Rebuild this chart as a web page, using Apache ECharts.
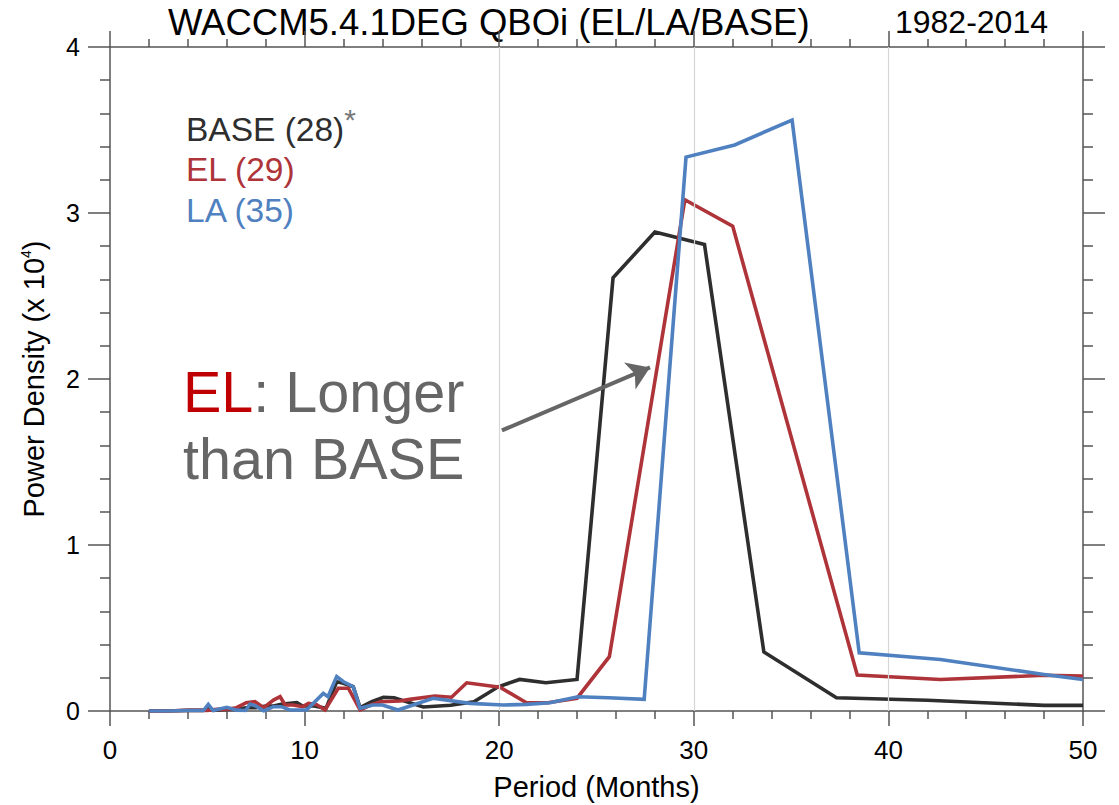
<!DOCTYPE html>
<html><head><meta charset="utf-8">
<script src="https://cdn.jsdelivr.net/npm/echarts@6/dist/echarts.min.js"></script>
<style>html,body{margin:0;padding:0;background:#fff}#c{width:1119px;height:805px}</style>
</head><body><div id="c"></div>
<script>
// ---- data (period in months, power density x 10^4) ----
const basePeriod = [2, 3, 4, 4.8, 5.05, 5.3, 6, 6.5, 7, 7.5, 8, 8.4, 8.8, 9.25, 9.6, 9.9, 10.5, 11.1, 11.65, 12.0, 12.5, 12.85, 13.45, 14.05, 14.6, 16.1, 17.5, 18.7, 19.95, 21.05, 22.4, 24.0, 25.85, 28.0, 30.55, 33.6, 37.33, 42.0, 48.0, 50];
const baseValue  = [0, 0, 0.004, 0.004, 0.02, 0.004, 0.01, 0.01, 0.02, 0.02, 0.03, 0.03, 0.04, 0.046, 0.05, 0.03, 0.03, 0.016, 0.176, 0.167, 0.146, 0.02, 0.056, 0.083, 0.08, 0.024, 0.035, 0.055, 0.146, 0.19, 0.17, 0.19, 2.61, 2.885, 2.81, 0.356, 0.08, 0.065, 0.034, 0.034];

const elPeriod = [2, 3, 4, 5, 5.5, 6, 6.5, 7.0, 7.45, 7.9, 8.4, 8.74, 9.0, 9.4, 9.9, 10.2, 10.6, 11.05, 11.73, 12.25, 12.85, 13.4, 13.9, 14.9, 15.4, 16.7, 17.55, 18.33, 20.04, 21.4, 22.5, 24.0, 25.66, 29.54, 32.0, 38.4, 42.67, 48, 50];
const elValue  = [0, 0, 0.004, 0.004, 0.01, 0.01, 0.02, 0.05, 0.056, 0.02, 0.066, 0.086, 0.036, 0.036, 0.026, 0.046, 0.04, 0.006, 0.137, 0.137, 0.006, 0.036, 0.056, 0.06, 0.07, 0.09, 0.083, 0.17, 0.143, 0.05, 0.05, 0.077, 0.327, 3.08, 2.92, 0.217, 0.19, 0.215, 0.21];

const laPeriod = [2, 3, 4, 4.8, 5.05, 5.3, 6.0, 6.5, 6.97, 7.2, 7.5, 7.9, 8.4, 8.8, 9.25, 10.1, 10.96, 11.2, 11.65, 12.0, 12.5, 12.85, 13.5, 14.0, 14.8, 16.6, 18.5, 20.2, 21.4, 22.6, 24.05, 25.6, 27.45, 29.6, 32.1, 35.05, 38.5, 42.67, 48, 50];
const laValue  = [0, 0, 0.003, 0.003, 0.04, 0.003, 0.022, 0.005, 0.003, 0.042, 0.03, 0.0, 0.026, 0.026, 0.006, 0.006, 0.106, 0.086, 0.207, 0.176, 0.146, 0.016, 0.036, 0.036, 0.006, 0.077, 0.046, 0.036, 0.04, 0.05, 0.086, 0.08, 0.07, 3.337, 3.41, 3.56, 0.35, 0.31, 0.22, 0.19];

const gridPeriods = [20, 30, 40];
const arrowFrom = [20.14, 1.69];
const arrowTo = [27.75, 2.07];

const titleText = 'WACCM5.4.1DEG QBOi (EL/LA/BASE)';
const yearText = '1982-2014';
const legendBase = 'BASE (28)';
const legendEL = 'EL (29)';
const legendLA = 'LA (35)';
const noteLine1 = 'EL';
const noteLine1Rest = ': Longer';
const noteLine2 = 'than BASE';
const xName = 'Period (Months)';

const FONT = '"Liberation Sans", Arial, Helvetica, sans-serif';
const C_BASE = '#2e2e2e', C_EL = '#ae343a', C_LA = '#4f80c0';
const AX = '#555';

const zip = (a, b) => a.map((x, i) => [x, b[i]]);
const chart = echarts.init(document.getElementById('c'), null, {renderer: 'svg'});

function xAx(pos, show) {
  return {
    type: 'value', min: 0, max: 50, interval: 10, position: pos,
    axisLine: {onZero: false, lineStyle: {color: AX, width: 1.5}},
    axisTick: {inside: false, length: pos === 'top' ? 16 : 15, lineStyle: {color: AX, width: 1.5}},
    minorTick: {show: true, splitNumber: 5, length: 8, lineStyle: {color: AX, width: 1.5}},
    splitLine: {show: false}, minorSplitLine: {show: false},
    axisLabel: {show: show, fontSize: 26, color: '#000', margin: 26, fontFamily: FONT},
    name: show ? xName : '', nameLocation: 'middle', nameGap: 61,
    nameTextStyle: {fontSize: 29, color: '#000', fontFamily: FONT}
  };
}
function yAx(pos, show) {
  return {
    type: 'value', min: 0, max: 4, interval: 1, position: pos,
    axisLine: {onZero: false, lineStyle: {color: AX, width: 1.5}},
    axisTick: {inside: false, length: 22, lineStyle: {color: AX, width: 1.5}},
    minorTick: {show: true, splitNumber: 5, length: 10, lineStyle: {color: AX, width: 1.5}},
    splitLine: {show: false}, minorSplitLine: {show: false},
    axisLabel: {show: show, fontSize: 25, color: '#000', margin: 30, fontFamily: FONT},
    name: show ? 'Power Density (x 10{sup|4})' : '', nameLocation: 'middle', nameGap: 62, nameRotate: 90,
    nameTextStyle: {fontSize: 29, color: '#000', fontFamily: FONT,
      rich: {sup: {fontSize: 14, color: '#000', fontFamily: FONT, verticalAlign: 'top', padding: [0, 0, 15, 0]}}}
  };
}

const lineSeries = (name, p, v, color, z) => ({
  name, type: 'line', data: zip(p, v), showSymbol: false, symbol: 'none', clip: true, z,
  lineStyle: {color, width: 3.6, join: 'miter'}, silent: true
});

const option = {
  animation: false,
  backgroundColor: '#fff',
  grid: {left: 110, right: 36, top: 47, bottom: 94, containLabel: false, outerBoundsMode: 'none'},
  xAxis: [xAx('bottom', true), xAx('top', false)],
  yAxis: [yAx('left', true), yAx('right', false)],
  series: [
    {type: 'line', data: [], z: 1, silent: true,
     markLine: {silent: true, symbol: 'none', label: {show: false},
       lineStyle: {color: '#d6d6d6', width: 1.2, type: 'solid'},
       data: gridPeriods.map(p => ({xAxis: p}))}},
    lineSeries('BASE', basePeriod, baseValue, C_BASE, 3),
    lineSeries('EL', elPeriod, elValue, C_EL, 4),
    lineSeries('LA', laPeriod, laValue, C_LA, 5),
    {type: 'line', data: [], z: 6, silent: true,
     markLine: {silent: true, symbol: ['none', 'arrow'], symbolSize: 22, label: {show: false},
       lineStyle: {color: '#666', width: 4, type: 'solid'},
       itemStyle: {color: '#666'},
       data: [[{coord: arrowFrom}, {coord: arrowTo}]]}}
  ],
  graphic: [
    {type: 'text', x: 168, y: 22, style: {text: titleText, fontSize: 36.5, fontFamily: FONT, fill: '#000', textVerticalAlign: 'middle'}},
    {type: 'text', x: 1048, y: 22, style: {text: yearText, fontSize: 32, fontFamily: FONT, fill: '#000', textAlign: 'right', textVerticalAlign: 'middle'}},
    {type: 'text', x: 186, y: 129, style: {text: legendBase + '{s|*}', fontSize: 33.5, fontFamily: FONT, fill: C_BASE, textVerticalAlign: 'middle',
      rich: {s: {fontSize: 30, fill: '#777', fontFamily: FONT, padding: [0, 0, 20, 0]}}}},
    {type: 'text', x: 186, y: 169, style: {text: legendEL, fontSize: 33.5, fontFamily: FONT, fill: C_EL, textVerticalAlign: 'middle'}},
    {type: 'text', x: 186, y: 210, style: {text: legendLA, fontSize: 33.5, fontFamily: FONT, fill: C_LA, textVerticalAlign: 'middle'}},
    {type: 'text', x: 183, y: 392, style: {text: '{r|' + noteLine1 + '}' + noteLine1Rest, fontSize: 57.5, fontFamily: FONT, fill: '#666', textVerticalAlign: 'middle',
      rich: {r: {fontSize: 57.5, fontFamily: FONT, fill: '#c00000'}}}},
    {type: 'text', x: 183, y: 459, style: {text: noteLine2, fontSize: 57.5, fontFamily: FONT, fill: '#666', textVerticalAlign: 'middle'}}
  ]
};
chart.setOption(option);
</script></body></html>
